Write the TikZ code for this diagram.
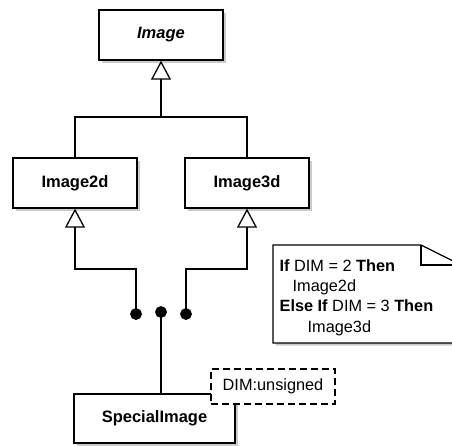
\documentclass[tikz,border=0pt]{standalone}
\usepackage{fontspec}
\setmainfont{Liberation Sans}
\usetikzlibrary{arrows.meta,shadows,calc}

\begin{document}
\begin{tikzpicture}[x=1pt,y=-1pt,
  every path/.style={line width=1.3pt},
  shade/.style={drop shadow={shadow xshift=2.5pt,shadow yshift=-2.5pt,fill=black!45,opacity=.45}},
  cls/.style={draw,fill=white,shade,inner sep=0pt,minimum width=124pt,minimum height=50pt,
    font=\bfseries\fontsize{16.5}{19}\selectfont},
  attr/.style={draw,fill=white,dashed,dash pattern=on 7pt off 4pt,inner sep=0pt,
    minimum width=124pt,minimum height=35pt,font=\fontsize{16.3}{19}\selectfont},
  txt/.style={inner sep=0pt,anchor=base west,font=\fontsize{16.3}{19}\selectfont},
  joint/.style={circle,draw,fill=black,inner sep=0pt,minimum size=10.5pt},
  inh/.style={-{Triangle[width=20pt,length=19pt,fill=white]}}
]
\useasboundingbox (0,0) rectangle (452,445);

% classes
\node[cls] (img) at (161,35) {\textit{Image}};
\node[cls] (i2) at (75,183) {Image2d};
\node[cls] (i3) at (247,183) {Image3d};
\node[cls,minimum width=161pt,minimum height=49pt] (sp) at (154.5,418.5) {SpecialImage};

% generalisation of Image
\coordinate (j) at (161,117);
\draw (i2.north) |- (j) -| (i3.north);
\draw[inh] (j) -- (img.south);

% selection joints
\node[joint] (ld) at (136,314) {};
\node[joint] (md) at (161,312) {};
\node[joint] (rd) at (186,314) {};

\coordinate (e2) at (75,269);
\coordinate (e3) at (247,269);
\draw[inh] (ld.center) |- (e2) -- (i2.south);
\draw[inh] (rd.center) |- (e3) -- (i3.south);
\draw (md.center) -- (md |- sp.north);

% template parameter
\node[attr] (par) at (273,386.5) {DIM:unsigned};

% note
\path[fill=white,shade] (273,245) -- (421,245) -- (461,265) -- (461,343) -- (273,343) -- cycle;
\draw (273,245) -- (421,245) -- (461,265) -- (461,343) -- (273,343) -- cycle;
\draw (421,245) -- (421,265) -- (461,265);
\node[txt] (n1) at (279,271) {\textbf{If} DIM = 2 \textbf{Then}};
\node[txt] (n2) at (292,291) {Image2d};
\node[txt] (n3) at (279,311) {\textbf{Else If} DIM = 3 \textbf{Then}};
\node[txt] (n4) at (307,332) {Image3d};
\end{tikzpicture}
\end{document}
